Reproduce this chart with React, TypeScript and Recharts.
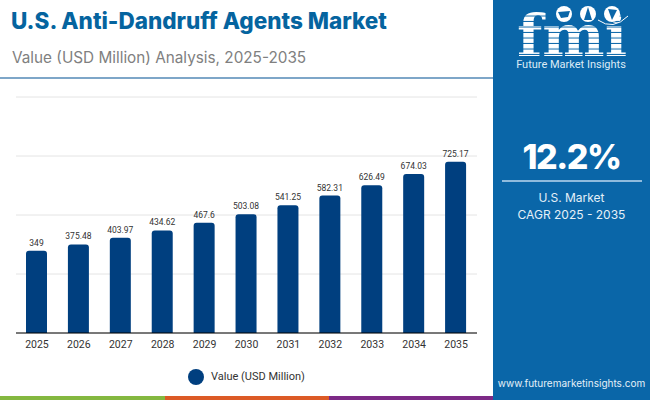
import { BarChart, Bar, XAxis, YAxis, CartesianGrid, LabelList, Legend } from "recharts";

const years = ["2025", "2026", "2027", "2028", "2029", "2030", "2031", "2032", "2033", "2034", "2035"];
const values = [349, 375.48, 403.97, 434.62, 467.6, 503.08, 541.25, 582.31, 626.49, 674.03, 725.17];
const yTicks = [0, 250, 500, 750, 1000];
const seriesName = "Value (USD Million)";
const title = "U.S. Anti-Dandruff Agents Market";
const subtitle = "Value (USD Million) Analysis, 2025-2035";

const data = years.map((year, i) => ({ year, value: values[i] }));

const BLUE = "#0a66a8";
const BAR = "#003f7f";

function Logo() {
  return (
    <svg width={157} height={80} style={{ position: "absolute", left: 493, top: 0 }}>
      <defs>
        <pattern id="stripes" width="4" height="5.5" patternUnits="userSpaceOnUse">
          <rect width="4" height="4.5" fill="#ffffff" />
        </pattern>
      </defs>
      <text x={24} y={56} fontFamily="'DejaVu Serif'" fontWeight={700} fontSize={58} textLength={110} lengthAdjust="spacingAndGlyphs" fill="url(#stripes)">
        fmi
      </text>
      <circle cx={71} cy={14} r={8} fill="#fff" />
      <circle cx={95} cy={14} r={8} fill="#fff" />
      <circle cx={119} cy={14} r={8} fill="#fff" />
      <path d="M65 12 L77 11 L75 17 L68 18 Z" fill={BLUE} />
      <path d="M95 7 L99 20 L91 20 Z" fill={BLUE} />
      <path d="M115 9 L124 10 L119 20 Z" fill={BLUE} />
      <path d="M105 20 Q120 31 135 16" fill="none" stroke="#fff" strokeWidth={1} />
      <text x={78} y={68} textAnchor="middle" fontFamily="Roboto" fontSize={11} fill="#dcebf6">
        Future Market Insights
      </text>
    </svg>
  );
}

export default function App() {
  return (
    <div style={{ position: "absolute", left: 0, top: 0, width: 650, height: 400, background: "#fff", overflow: "hidden" }}>
      <div style={{ position: "absolute", left: 11, top: 7, fontFamily: "Inter", fontWeight: 800, fontSize: 22.5, color: "#05649f", whiteSpace: "nowrap" }}>
        {title}
      </div>
      <div style={{ position: "absolute", left: 12, top: 48, fontFamily: "Inter", fontSize: 15.3, color: "#808080", whiteSpace: "nowrap" }}>
        {subtitle}
      </div>
      <div style={{ position: "absolute", left: 0, top: 77, width: 493, height: 2, background: "#7ea6c8" }} />

      <BarChart
        width={493}
        height={400}
        data={data}
        margin={{ top: 97, right: 16, bottom: 21, left: 16 }}
        style={{ position: "absolute", left: 0, top: 0 }}
      >
        <CartesianGrid vertical={false} stroke="#e4e4e4" />
        <XAxis
          dataKey="year"
          height={30}
          tickLine={false}
          axisLine={{ stroke: "#000000" }}
          tick={{ fontSize: 10.5, fill: "#333333", fontFamily: "Roboto" }}
        />
        <YAxis hide domain={[0, 1000]} ticks={yTicks} />
        <Legend
          verticalAlign="bottom"
          iconType="circle"
          iconSize={16}
          wrapperStyle={{ fontSize: 11, fontFamily: "Roboto", bottom: 15, left: 21 }}
          formatter={(v) => <span style={{ color: "#333333", marginLeft: 3 }}>{v}</span>}
        />
        <Bar dataKey="value" name={seriesName} fill={BAR} barSize={21} radius={[3, 3, 0, 0]} isAnimationActive={false}>
          <LabelList dataKey="value" position="top" style={{ fontSize: 8.5, fill: "#333333", fontFamily: "Roboto" }} />
        </Bar>
      </BarChart>

      <div style={{ position: "absolute", left: 493, top: 0, width: 157, height: 400, background: BLUE }} />
      <Logo />
      <div style={{ position: "absolute", left: 493, top: 136, width: 157, textAlign: "center", fontFamily: "Inter", fontWeight: 800, fontSize: 34, letterSpacing: -1.5, color: "#fff" }}>
        12.2%
      </div>
      <div style={{ position: "absolute", left: 502, top: 180, width: 140, height: 1.5, background: "#8fbbdd" }} />
      <div style={{ position: "absolute", left: 493, top: 189, width: 157, textAlign: "center", fontFamily: "Inter", fontSize: 12, lineHeight: "17px", color: "#e4f0f8" }}>
        U.S. Market
        <br />
        CAGR 2025 - 2035
      </div>
      <div style={{ position: "absolute", left: 493, top: 377, width: 157, textAlign: "center", fontFamily: "Inter", fontSize: 10, color: "#e4f0f8" }}>
        www.futuremarketinsights.com
      </div>

      <div style={{ position: "absolute", left: 0, top: 396, width: 165, height: 4, background: "#84b840" }} />
      <div style={{ position: "absolute", left: 165, top: 396, width: 164, height: 4, background: "#dc5a26" }} />
      <div style={{ position: "absolute", left: 329, top: 396, width: 164, height: 4, background: "#7d2a86" }} />
    </div>
  );
}
